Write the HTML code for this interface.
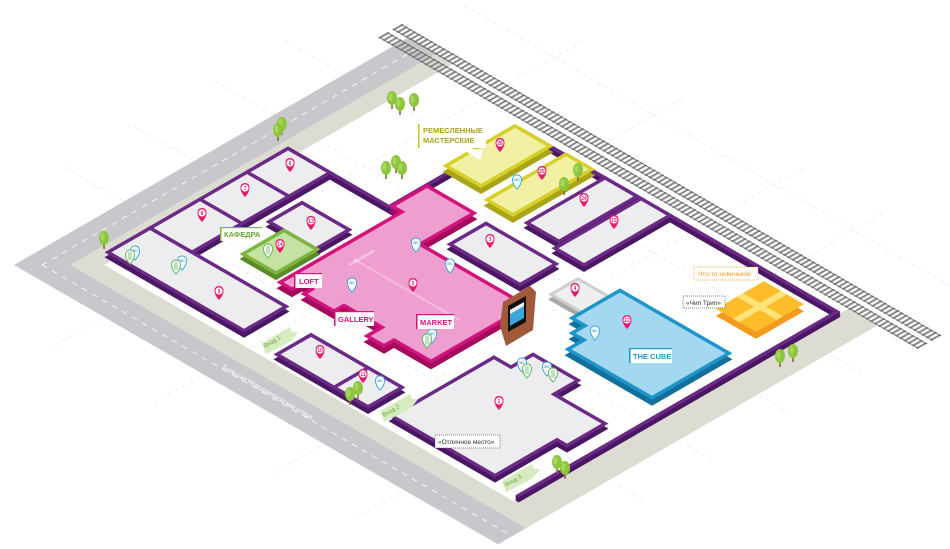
<!DOCTYPE html>
<html><head><meta charset="utf-8"><style>
html,body{margin:0;padding:0;background:#fff;width:950px;height:549px;overflow:hidden;}
svg{display:block;font-family:"Liberation Sans","DejaVu Sans",sans-serif;}
</style></head><body>
<svg width="950" height="549" viewBox="0 0 950 549" xmlns="http://www.w3.org/2000/svg" style="position:absolute;left:0;top:0">
<defs>
<g id="pin"><path d="M0,0 C-6,-6 -6,-14 0,-14 C6,-14 6,-6 0,0Z" fill="#e8196e"/><circle cx="0" cy="-9" r="3.6" fill="#fff"/></g>
<g id="wc"><path d="M0,0 C-6,-6 -6,-14 0,-14 C6,-14 6,-6 0,0Z" fill="#fff" stroke="#3aa8dc" stroke-width="1"/><text x="0" y="-8" font-size="3.5" fill="#3aa8dc" text-anchor="middle" font-weight="bold">WC</text></g>
<g id="food"><path d="M0,0 C-6,-6 -6,-14 0,-14 C6,-14 6,-6 0,0Z" fill="#fff" stroke="#5cb85c" stroke-width="1"/><path d="M-1,-12 V-4 M1,-12 V-4" stroke="#5cb85c" stroke-width="0.8"/></g>
<g id="tree"><rect x="-0.8" y="0" width="1.6" height="9" fill="#8a6a3a"/><ellipse cx="0" cy="-2" rx="5" ry="7" fill="#8cc63f"/><ellipse cx="-1.5" cy="-3" rx="2" ry="4" fill="#a6d65a"/></g>
<g id="fence"><g transform="matrix(1,-0.577,1,0.577,14,265)" fill="none" stroke-width="3.5"><path d="M371,134 V452 H51"/><path d="M238,36 V148 M240,137 H302"/></g></g>
</defs>

<g transform="matrix(1,-0.577,1,0.577,14,265)">
  <g stroke="#e6e6e6" stroke-width="0.6" stroke-dasharray="4 3" fill="none">
    <path d="M110,-60 V520 M180,-60 V520 M260,-60 V520 M330,-60 V520 M450,0 V500"/>
    <path d="M-50,90 H480 M-50,190 H480 M-50,310 H480 M-50,390 H480"/>
  </g>
  <path d="M0,0 H395 V45 H45 V470 H380 V484 H0Z" fill="#dcdcd2"/>
  <path d="M0,0 H395 V28 H28 V484 H0Z" fill="#c8c8cc"/>
  <path d="M14,14 H392 M14,14 V484" stroke="#fff" stroke-width="0.8" stroke-dasharray="5 5" fill="none"/>
  <rect x="28" y="455" width="352" height="29" fill="#dcdcd2"/>
  <g fill="none">
    <path d="M384,-15 V525" stroke="#8a8a8a" stroke-width="10" stroke-dasharray="2 2.2"/>
    <path d="M398,-15 V525" stroke="#8a8a8a" stroke-width="10" stroke-dasharray="2 2.2"/>
    <path d="M380,-15 V525 M388,-15 V525 M394,-15 V525 M402,-15 V525" stroke="#666" stroke-width="0.8"/>
  </g>
</g>

<g stroke="#4a1763">
<use href="#fence" y="5"/><use href="#fence" y="4"/><use href="#fence" y="3"/><use href="#fence" y="2"/><use href="#fence" y="1"/>
</g>
<g stroke="#6b2a86"><use href="#fence"/></g>

<g transform="translate(0,6)"><g transform="matrix(1,-0.577,1,0.577,14,265)"><path d="M302,130 H371 V165 H302Z" fill="#aaa516" stroke="#aaa516" stroke-width="3.5"/></g></g>
<g transform="matrix(1,-0.577,1,0.577,14,265)"><path d="M302,130 H371 V165 H302Z" fill="#f2f0a2" stroke="#d5d02a" stroke-width="3.5"/></g>
<g transform="translate(0,6)"><g transform="matrix(1,-0.577,1,0.577,14,265)"><path d="M293,180 H372 V206 H293Z" fill="#aaa516" stroke="#aaa516" stroke-width="3.5"/></g></g>
<g transform="matrix(1,-0.577,1,0.577,14,265)"><path d="M293,180 H372 V206 H293Z" fill="#f2f0a2" stroke="#d5d02a" stroke-width="3.5"/></g>
<g transform="translate(0,5)"><g transform="matrix(1,-0.577,1,0.577,14,265)"><path d="M100,36 H238 V78 H100Z" fill="#4a1763" stroke="#4a1763" stroke-width="3.5"/></g></g>
<g transform="matrix(1,-0.577,1,0.577,14,265)"><path d="M100,36 H238 V78 H100Z" fill="#ededf0" stroke="#6b2a86" stroke-width="3.5"/><path d="M150,36 V78 M197,36 V78" stroke="#6b2a86" stroke-width="3.5"/></g>
<g transform="translate(0,5)"><g transform="matrix(1,-0.577,1,0.577,14,265)"><path d="M293,220 H371 V252 H293Z" fill="#4a1763" stroke="#4a1763" stroke-width="3.5"/></g></g>
<g transform="matrix(1,-0.577,1,0.577,14,265)"><path d="M293,220 H371 V252 H293Z" fill="#ededf0" stroke="#6b2a86" stroke-width="3.5"/></g>
<g transform="translate(0,5)"><g transform="matrix(1,-0.577,1,0.577,14,265)"><path d="M165,90 H198 V137 H165Z" fill="#4a1763" stroke="#4a1763" stroke-width="3.5"/></g></g>
<g transform="matrix(1,-0.577,1,0.577,14,265)"><path d="M165,90 H198 V137 H165Z" fill="#ededf0" stroke="#6b2a86" stroke-width="3.5"/></g>
<g transform="translate(0,5)"><g transform="matrix(1,-0.577,1,0.577,14,265)"><path d="M285,256 H371 V285 H285Z" fill="#4a1763" stroke="#4a1763" stroke-width="3.5"/></g></g>
<g transform="matrix(1,-0.577,1,0.577,14,265)"><path d="M285,256 H371 V285 H285Z" fill="#ededf0" stroke="#6b2a86" stroke-width="3.5"/></g>
<g transform="translate(0,5)"><g transform="matrix(1,-0.577,1,0.577,14,265)"><path d="M236,200 H272 V270 H236Z" fill="#4a1763" stroke="#4a1763" stroke-width="3.5"/></g></g>
<g transform="matrix(1,-0.577,1,0.577,14,265)"><path d="M236,200 H272 V270 H236Z" fill="#ededf0" stroke="#6b2a86" stroke-width="3.5"/></g>
<g transform="translate(0,5)"><g transform="matrix(1,-0.577,1,0.577,14,265)"><path d="M124,105 H165 V138 H124Z" fill="#5a8a28" stroke="#5a8a28" stroke-width="3.5"/></g></g>
<g transform="matrix(1,-0.577,1,0.577,14,265)"><path d="M124,105 H165 V138 H124Z" fill="#c6e2a2" stroke="#7cb540" stroke-width="3.5"/></g>
<g transform="translate(0,6)"><g transform="matrix(1,-0.577,1,0.577,14,265)"><path d="M118,148 H240 V138 H275 V185 H221 V292 H125 V255 H115 V238 H130 V200 H120 V170 H128 V160 H118Z" fill="#a30c5c" stroke="#a30c5c" stroke-width="3.5"/></g></g>
<g transform="matrix(1,-0.577,1,0.577,14,265)"><path d="M118,148 H240 V138 H275 V185 H221 V292 H125 V255 H115 V238 H130 V200 H120 V170 H128 V160 H118Z" fill="#ee9fcf" stroke="#d3127c" stroke-width="3.5"/><path d="M175,165 V270" stroke="#f4bcdc" stroke-width="2"/></g>
<g transform="translate(0,5)"><g transform="matrix(1,-0.577,1,0.577,14,265)"><path d="M58,36 H100 V172 H58Z" fill="#4a1763" stroke="#4a1763" stroke-width="3.5"/></g></g>
<g transform="matrix(1,-0.577,1,0.577,14,265)"><path d="M58,36 H100 V172 H58Z" fill="#ededf0" stroke="#6b2a86" stroke-width="3.5"/></g>
<g transform="translate(0,5)"><g transform="matrix(1,-0.577,1,0.577,14,265)"><path d="M243,294 H270 V325 H243Z" fill="#a8a8a8" stroke="#a8a8a8" stroke-width="3"/></g></g>
<g transform="matrix(1,-0.577,1,0.577,14,265)"><path d="M243,294 H270 V325 H243Z" fill="#efefef" stroke="#cfcfcf" stroke-width="3"/></g>
<g transform="translate(0,7)"><g transform="matrix(1,-0.577,1,0.577,14,265)"><path d="M313,389 H361 V429 H313Z" fill="#f39a1c"/></g></g>
<g transform="matrix(1,-0.577,1,0.577,14,265)"><path d="M313,389 H361 V429 H313Z" fill="#fdbd2a"/><path d="M337,389 V429 M313,409 H361" stroke="#fde47a" stroke-width="6"/></g>
<g transform="translate(0,6)"><g transform="matrix(1,-0.577,1,0.577,14,265)"><path d="M233,325 H281 V434 H204 V350 H220 V338 H233Z" fill="#14709a" stroke="#14709a" stroke-width="3.5"/></g></g>
<g transform="matrix(1,-0.577,1,0.577,14,265)"><path d="M233,325 H281 V434 H204 V350 H220 V338 H233Z" fill="#a3d8f0" stroke="#1e95c9" stroke-width="3.5"/></g>
<g transform="translate(0,5)"><g transform="matrix(1,-0.577,1,0.577,14,265)"><path d="M54,209 H88 V300 H54Z" fill="#4a1763" stroke="#4a1763" stroke-width="3.5"/></g></g>
<g transform="matrix(1,-0.577,1,0.577,14,265)"><path d="M54,209 H88 V300 H54Z" fill="#ededf0" stroke="#6b2a86" stroke-width="3.5"/><path d="M54,266 H88" stroke="#6b2a86" stroke-width="3.5"/></g>
<g transform="translate(0,5)"><g transform="matrix(1,-0.577,1,0.577,14,265)"><path d="M58,320 H160 V337 H182 V382 H158 V433 H120 V423 H58Z" fill="#4a1763" stroke="#4a1763" stroke-width="3.5"/></g></g>
<g transform="matrix(1,-0.577,1,0.577,14,265)"><path d="M58,320 H160 V337 H182 V382 H158 V433 H120 V423 H58Z" fill="#ededf0" stroke="#6b2a86" stroke-width="3.5"/></g>

<path d="M503,302 L530,286 L536,292 L533,330 L506,346 L500,326Z" fill="#a0593a"/>
<path d="M508,306 L526,296 L526,322 L508,332Z" fill="#111"/>
<path d="M510,310 L524,302 L524,318 L510,326Z" fill="#3aa8dc"/>
<path d="M510,310 L524,302 L524,306 L510,314Z" fill="#eee"/>

<use href="#tree" x="104" y="240"/><use href="#tree" x="282" y="126"/><use href="#tree" x="278" y="132"/>
<use href="#tree" x="392" y="100"/><use href="#tree" x="400" y="106"/><use href="#tree" x="414" y="102"/>
<use href="#tree" x="386" y="170"/><use href="#tree" x="396" y="164"/><use href="#tree" x="402" y="170"/>
<use href="#tree" x="578" y="172"/><use href="#tree" x="564" y="186"/>
<use href="#tree" x="350" y="396"/><use href="#tree" x="358" y="390"/>
<use href="#tree" x="557" y="464"/><use href="#tree" x="565" y="470"/>
<use href="#tree" x="780" y="358"/><use href="#tree" x="793" y="353"/>

<g font-size="5" font-weight="bold" fill="#e8196e" text-anchor="middle">
<use href="#pin" x="290" y="172"/><text x="290" y="165">6</text>
<use href="#pin" x="245" y="197"/><text x="245" y="190">7</text>
<use href="#pin" x="202" y="222"/><text x="202" y="215">8</text>
<use href="#pin" x="311" y="230"/><text x="311" y="223">13</text>
<use href="#pin" x="280" y="253"/><text x="280" y="246">14</text>
<use href="#pin" x="219" y="300"/><text x="219" y="293">9</text>
<use href="#pin" x="413" y="292"/><text x="413" y="285">2</text>
<use href="#pin" x="490" y="248"/><text x="490" y="241">3</text>
<use href="#pin" x="500" y="152"/><text x="500" y="145">26</text>
<use href="#pin" x="542" y="180"/><text x="542" y="173">25</text>
<use href="#pin" x="584" y="207"/><text x="584" y="200">24</text>
<use href="#pin" x="614" y="229"/><text x="614" y="222">15</text>
<use href="#pin" x="575" y="297"/><text x="575" y="290">4</text>
<use href="#pin" x="627" y="329"/><text x="627" y="322">12</text>
<use href="#pin" x="499" y="410"/><text x="499" y="403">1</text>
<use href="#pin" x="320" y="359"/><text x="320" y="352">10</text>
<use href="#pin" x="363" y="383"/><text x="363" y="376">11</text>
</g>
<use href="#wc" x="135" y="260"/><use href="#food" x="130" y="264"/>
<use href="#wc" x="182" y="270"/><use href="#food" x="176" y="274"/>
<use href="#food" x="268" y="258"/>
<use href="#wc" x="416" y="252"/><use href="#wc" x="450" y="273"/><use href="#wc" x="352" y="292"/>
<use href="#wc" x="432" y="343"/><use href="#food" x="427" y="348"/>
<use href="#wc" x="517" y="189"/><use href="#wc" x="595" y="340"/>
<use href="#wc" x="380" y="390"/>
<use href="#wc" x="522" y="372"/><use href="#food" x="527" y="378"/>
<use href="#wc" x="547" y="376"/><use href="#food" x="553" y="382"/>

<g font-weight="bold" font-size="7.5">
<rect x="418" y="124" width="68" height="24" fill="#fff"/><rect x="418" y="124" width="1.5" height="24" fill="#c8c41a"/>
<text x="423" y="133" fill="#a8a41a">РЕМЕСЛЕННЫЕ</text><text x="423" y="143" fill="#a8a41a">МАСТЕРСКИЕ</text>
<path d="M460,148 L483,150 L480,160Z" fill="#fff"/>
<rect x="220" y="227" width="42" height="14" fill="#fff"/><rect x="220" y="227" width="1.5" height="14" fill="#7cb540"/><rect x="220" y="227" width="42" height="1.2" fill="#7cb540"/>
<text x="224" y="237" fill="#6aa33a">КАФЕДРА</text>
<rect x="294" y="273" width="28" height="15" fill="#fff"/><rect x="294" y="273" width="1.5" height="15" fill="#d3127c"/><rect x="294" y="273" width="28" height="1.2" fill="#d3127c"/>
<text x="299" y="284" fill="#d3127c">LOFT</text>
<rect x="334" y="311" width="40" height="15" fill="#fff"/><rect x="334" y="311" width="1.5" height="15" fill="#d3127c"/><rect x="334" y="311" width="40" height="1.2" fill="#d3127c"/>
<text x="338" y="322" fill="#d3127c">GALLERY</text>
<rect x="416" y="314" width="38" height="15" fill="#fff"/><rect x="416" y="314" width="1.5" height="15" fill="#d3127c"/><rect x="416" y="314" width="38" height="1.2" fill="#d3127c"/>
<text x="420" y="325" fill="#d3127c">MARKET</text>
<rect x="629" y="348" width="43" height="15" fill="#fff"/><rect x="629" y="348" width="1.5" height="15" fill="#1e95c9"/><rect x="629" y="348" width="43" height="1.2" fill="#1e95c9"/>
<text x="633" y="359" fill="#1e95c9">THE CUBE</text>
</g>
<g font-size="6.5">
<rect x="683" y="296" width="42" height="12" fill="#fff" stroke="#555" stroke-width="0.7" stroke-dasharray="1 1"/>
<text x="686" y="305" fill="#333">«Чип Трип»</text>
<rect x="694" y="267" width="64" height="13" fill="#fff" stroke="#f29a1c" stroke-width="0.7" stroke-dasharray="1 1"/>
<text x="698" y="276" fill="#f29a1c">Что-то новенькое</text>
<rect x="435" y="435" width="65" height="13" fill="#fff" stroke="#555" stroke-width="0.7" stroke-dasharray="1 1"/>
<text x="438" y="444" fill="#333">«Отличное место»</text>
</g>
<g font-size="6" fill="#6aa33a">
<path d="M262,343 L290,327 L292,332 L298,332 L292,340 L286,344 L266,354Z" fill="#d6ecc0"/>
<text transform="translate(265,348) rotate(-30)">Вход 1</text>
<path d="M380,411 L410,394 L412,399 L418,399 L412,407 L406,411 L384,422Z" fill="#d6ecc0"/>
<text transform="translate(384,417) rotate(-30)">Вход 2</text>
<path d="M502,481 L532,464 L534,469 L540,469 L534,477 L528,481 L506,492Z" fill="#d6ecc0"/>
<text transform="translate(506,487) rotate(-30)">Вход 3</text>
</g>
<text transform="translate(206,133) rotate(-30)" font-size="6.5" fill="#fff">Новодмитровская улица</text>
<text transform="translate(222,368) rotate(30)" font-size="6.5" fill="#fff">Большая Новодмитровская улица</text>
<text transform="translate(350,266) rotate(-30)" font-size="4.5" fill="#fff">К мастерским</text>
</svg>
</body></html>
